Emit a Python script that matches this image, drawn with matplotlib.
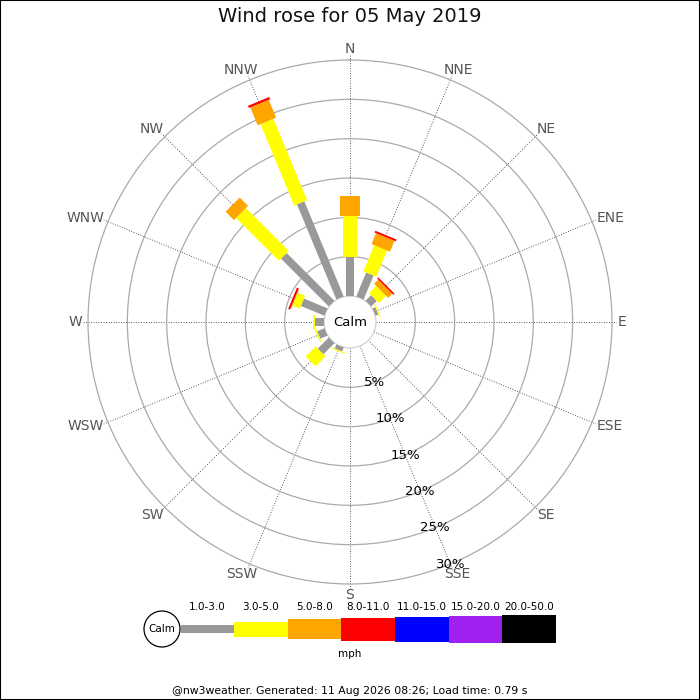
import numpy as np
import matplotlib
matplotlib.use("Agg")
import matplotlib.pyplot as plt
from matplotlib.patches import Circle, Rectangle

# ---------------- data ----------------
title = "Wind rose for 05 May 2019"
directions = ['N', 'NNE', 'NE', 'ENE', 'E', 'ESE', 'SE', 'SSE',
              'S', 'SSW', 'SW', 'WSW', 'W', 'WNW', 'NW', 'NNW']
speed_bins = ['1.0-3.0', '3.0-5.0', '5.0-8.0', '8.0-11.0',
              '11.0-15.0', '15.0-20.0', '20.0-50.0']
# percentage of time per direction for each speed bin
pct_1_3   = [4.9, 3.3, 1.0, 0.4, 0, 0, 0, 0, 0, 0.55, 2.0, 1.0, 1.1, 3.25, 8.6, 13.1]
pct_3_5   = [5.25, 3.6, 1.3, 0.15, 0, 0, 0, 0, 0, 0.15, 1.8, 0.2, 0.25, 1.0, 7.7, 11.2]
pct_5_8   = [2.6, 1.5, 0.75, 0, 0, 0, 0, 0, 0, 0, 0, 0, 0, 0.1, 1.5, 2.45]
pct_8_11  = [0, 0.25, 0.2, 0, 0, 0, 0, 0, 0, 0, 0, 0, 0, 0.25, 0, 0.3]
pct_11_15 = [0] * 16
pct_15_20 = [0] * 16
pct_20_50 = [0] * 16
radial_ticks = [5, 10, 15, 20, 25, 30]
unit = "mph"
footer = "@nw3weather. Generated: 11 Aug 2026 08:26; Load time: 0.79 s"

# ---------------- styles ----------------
colors = ['#999999', '#ffff00', '#ffa500', '#ff0000', '#0000ff', '#a020f0', '#000000']
bar_px = [8, 14, 20, 23, 25, 27, 28]          # bar widths in pixels
legend_h_px = [8, 15, 20, 23, 25, 27, 28]
DPI = 100
px2pt = 72.0 / DPI

fig = plt.figure(figsize=(7, 7), dpi=DPI)
fig.patch.set_facecolor('white')

# polar axes geometry: centre (350, 322) px from top, radius 266.7 px
R = 266.7
cx, cy = 350, 322
rmax = 30.6
rorig = 3.3
ax = fig.add_axes([(cx - R) / 700, (700 - cy - R) / 700, 2 * R / 700, 2 * R / 700],
                  projection='polar')
ax.set_theta_zero_location('N')
ax.set_theta_direction(-1)
ax.set_ylim(0, rmax)
ax.set_rorigin(-rorig)
ax.patch.set_edgecolor('none')

theta = np.deg2rad(np.arange(16) * 22.5)
ax.set_xticks(theta)
ax.set_xticklabels([])
ax.set_yticks(radial_ticks)
ax.set_yticklabels([])
ax.tick_params(length=0)
ax.xaxis.grid(True, color='#222222', linestyle=(0, (1, 2)), linewidth=0.6)
ax.yaxis.grid(True, color='#aaaaaa', linestyle='-', linewidth=0.9)
for s in ax.spines.values():
    s.set_visible(False)
ax.spines['inner'].set_visible(True)
ax.spines['inner'].set_color('#cccccc')
ax.spines['inner'].set_linewidth(0.8)

series = [pct_1_3, pct_3_5, pct_5_8, pct_8_11, pct_11_15, pct_15_20, pct_20_50]
base = np.zeros(16)
for vals, col, w in zip(series, colors, bar_px):
    vals = np.asarray(vals, dtype=float)
    for i in range(16):
        if vals[i] > 0:
            ax.plot([theta[i], theta[i]], [base[i], base[i] + vals[i]],
                    color=col, linewidth=w * px2pt, solid_capstyle='butt', zorder=3)
    base = base + vals

# calm label in the hole
ax.text(0, -rorig, 'Calm', ha='center', va='center', fontsize=9.5, color='black', zorder=5)

# radial labels along SSE
for t in radial_ticks:
    ax.text(np.deg2rad(157.5), t, f'{t}%', ha='center', va='center',
            fontsize=9.5, color='black', zorder=4)

# direction labels, bbox touching an anchor circle
fig.canvas.draw()
renderer = fig.canvas.get_renderer()
r_anchor = 30.75
for i, d in enumerate(directions):
    ann = ax.annotate(d, xy=(theta[i], r_anchor), xytext=(0, 0),
                      textcoords='offset pixels', ha='center', va='center',
                      fontsize=10, color='#555555', annotation_clip=False)
    bb = ann.get_window_extent(renderer=renderer)
    w, h = bb.width, bb.height * 0.72
    ann.xyann = (np.sin(theta[i]) * w / 2, np.cos(theta[i]) * h / 2)

# title
fig.text(0.5, 1 - 17 / 700, title, ha='center', va='center', fontsize=14, color='#111111')

# legend / footer axes in pixel coords (y downwards)
lax = fig.add_axes([0, 0, 1, 1], zorder=-1)
lax.set_xlim(0, 700)
lax.set_ylim(700, 0)
lax.axis('off')
ly = 629
lax.add_patch(Circle((162, ly), 18, facecolor='white', edgecolor='black', linewidth=0.9))
lax.text(162, ly, 'Calm', ha='center', va='center', fontsize=7.5)
seg = 53.65
x0 = 180.5
for i, (lab, col, h) in enumerate(zip(speed_bins, colors, legend_h_px)):
    xs = x0 + i * seg
    lax.add_patch(Rectangle((xs, ly - h / 2), seg, h, facecolor=col, edgecolor='none'))
    lax.text(xs + seg / 2, 607, lab, ha='center', va='center', fontsize=7.5)
lax.text(350, 654, unit, ha='center', va='center', fontsize=7.5)
lax.text(350, 691, footer, ha='center', va='center', fontsize=7.8)

# figure border
fig.patches.append(Rectangle((0, 0), 1, 1, transform=fig.transFigure, fill=False,
                             edgecolor='black', linewidth=1.5))

fig.savefig('out.png', dpi=DPI)
